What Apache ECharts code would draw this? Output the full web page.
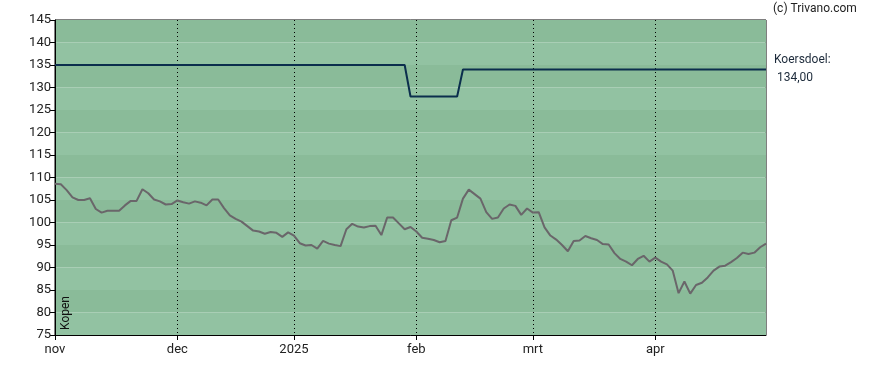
<!DOCTYPE html>
<html>
<head>
<meta charset="utf-8">
<script src="https://cdn.jsdelivr.net/npm/echarts@6/dist/echarts.min.js"></script>
<style>html,body{margin:0;padding:0;background:#fff}#c{width:888px;height:370px}</style>
</head>
<body>
<div id="c"></div>
<script>
// Month start positions (trading-day index) and their labels
var monthStarts = [0, 21, 41, 62, 82, 103];
var monthLabels = ['nov', 'dec', '2025', 'feb', 'mrt', 'apr'];

// Daily closing prices (one per trading day)
var prices = [
  108.6, 108.5, 107.2, 105.6, 105.0, 105.0, 105.4, 103.0, 102.2, 102.6,
  102.6, 102.6, 103.8, 104.8, 104.8, 107.4, 106.5, 105.1, 104.7, 104.0,
  104.1, 104.9, 104.5, 104.2, 104.7, 104.4, 103.8, 105.1, 105.1, 103.2,
  101.6, 100.8, 100.2, 99.2, 98.2, 98.0, 97.5, 97.9, 97.7, 96.8,
  97.8, 97.1, 95.4, 94.9, 95.0, 94.2, 95.9, 95.3, 95.0, 94.75,
  98.5, 99.7, 99.1, 98.9, 99.2, 99.3, 97.2, 101.1, 101.1, 99.8,
  98.5, 99.0, 98.0, 96.6, 96.4, 96.1, 95.6, 95.9, 100.5, 101.1,
  105.3, 107.3, 106.3, 105.3, 102.3, 100.8, 101.1, 103.1, 104.0, 103.7,
  101.7, 103.1, 102.2, 102.3, 98.9, 97.1, 96.2, 95.0, 93.6, 95.9,
  96.0, 97.0, 96.5, 96.1, 95.2, 95.1, 93.2, 91.9, 91.3, 90.5,
  91.9, 92.6, 91.3, 92.2, 91.3, 90.7, 89.3, 84.3, 86.9, 84.2,
  86.1, 86.6, 87.8, 89.3, 90.2, 90.4, 91.2, 92.1, 93.3, 93.0,
  93.3, 94.5, 95.3
];

// Price target (koersdoel) per trading day: value and the index where it starts
var targetValues = [135, 128, 134];
var targetStarts = [0, 61, 70];

var yTicks = {min: 75, max: 145, step: 5};
var targetLabel = ['Koersdoel:', '134,00'];

var n = prices.length;
var categories = [];
var target = [];
for (var i = 0; i < n; i++) {
  var k = monthStarts.indexOf(i);
  categories.push(k >= 0 ? monthLabels[k] : '');
  var t = targetValues[0];
  for (var j = 0; j < targetStarts.length; j++) if (i >= targetStarts[j]) t = targetValues[j];
  target.push(t);
}
function isMonth(idx) { return monthStarts.indexOf(idx) >= 0; }
function isMonthNotFirst(idx) { return idx !== 0 && monthStarts.indexOf(idx) >= 0; }

var chart = echarts.init(document.getElementById('c'), null, {renderer: 'canvas'});
chart.setOption({
  animation: false,
  backgroundColor: '#ffffff',
  textStyle: {fontFamily: 'Roboto'},
  grid: {left: 55, right: 122, top: 20, bottom: 35, show: true, borderColor: '#000', borderWidth: 1, backgroundColor: 'transparent'},
  xAxis: {
    type: 'category',
    data: categories,
    boundaryGap: false,
    axisLine: {lineStyle: {color: '#000', width: 1}},
    axisTick: {show: true, interval: isMonth, length: 5, lineStyle: {color: '#000'}},
    axisLabel: {interval: isMonth, color: '#222', fontSize: 13, margin: 8, fontFamily: 'Roboto'},
    splitLine: {show: true, interval: isMonthNotFirst, lineStyle: {color: '#000', type: [1, 3], width: 1}}
  },
  yAxis: {
    type: 'value',
    min: yTicks.min, max: yTicks.max, interval: yTicks.step,
    axisLine: {show: true, lineStyle: {color: '#000', width: 1}},
    axisTick: {show: true, length: 5, lineStyle: {color: '#000'}},
    axisLabel: {color: '#222', fontSize: 13, margin: 4, fontFamily: 'Roboto'},
    splitLine: {show: false},
    splitArea: {show: true, areaStyle: {color: ['#92c2a2', '#8abb99']}}
  },
  series: [
    {
      type: 'line', data: target, symbol: 'none', z: 3,
      lineStyle: {color: '#0b2e4d', width: 2}
    },
    {
      type: 'line', data: prices, symbol: 'none', z: 4,
      lineStyle: {color: '#6a666a', width: 2}
    }
  ],
  graphic: [
    {type: 'text', left: 773, top: 3, style: {text: '(c) Trivano.com', fill: '#222', fontSize: 12, fontFamily: 'Roboto'}},
    {type: 'text', left: 774, top: 54, style: {text: targetLabel[0], fill: '#1c2a3a', fontSize: 12, fontFamily: 'Roboto'}},
    {type: 'text', left: 777, top: 72, style: {text: targetLabel[1], fill: '#1c2a3a', fontSize: 12, fontFamily: 'Roboto'}},
    {type: 'text', left: 60, top: 296, rotation: Math.PI / 2, z: 100, style: {text: 'Kopen', fill: '#111', fontSize: 12, fontFamily: 'Roboto'}}
  ]
});
</script>
</body>
</html>
